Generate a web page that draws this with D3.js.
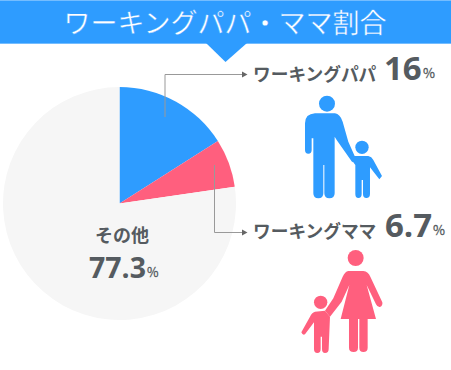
<!DOCTYPE html>
<html>
<head>
<meta charset="utf-8">
<script src="https://cdnjs.cloudflare.com/ajax/libs/d3/7.8.5/d3.min.js"></script>
<style>
html, body { margin: 0; padding: 0; background: #fff; }
svg { display: block; }
text { font-family: "Noto Sans CJK JP", sans-serif; }
.num { font-family: "Open Sans", sans-serif; font-weight: 700; }
</style>
</head>
<body>
<script>
var w = 451;
var h = 370;

var title = "ワーキングパパ・ママ割合";
var categories = ["ワーキングパパ", "ワーキングママ", "その他"];
var values = [16, 6.7, 77.3];
var colors = ["#2e9cff", "#ff5f7e", "#f6f6f6"];
var textColor = "#555b60";

var svg = d3.select("body")
    .append("svg")
    .attr("width", w)
    .attr("height", h);

// header band
svg.append("rect")
    .attr("x", 0).attr("y", 0)
    .attr("width", w).attr("height", 44)
    .attr("fill", colors[0]);
svg.append("rect").attr("x", 0).attr("y", 0).attr("width", w).attr("height", 1).attr("fill", "#74bdff");
svg.append("rect").attr("x", 0).attr("y", 43).attr("width", w).attr("height", 1).attr("fill", "#74bdff");
svg.append("path")
    .attr("d", "M206,43L247,43L225.5,62Z")
    .attr("fill", colors[0]);
svg.append("text")
    .attr("x", 225)
    .attr("y", 33)
    .attr("text-anchor", "middle")
    .attr("fill", "#fff")
    .attr("stroke", colors[0])
    .attr("stroke-width", 0.4)
    .style("font-size", "27px")
    .text(title);

// pie
var pie = d3.pie().sort(null).value(function(d){ return d; });
var arc = d3.arc().innerRadius(0).outerRadius(116.5);

svg.append("g")
    .attr("transform", "translate(119.5,203.5)")
    .selectAll("path")
    .data(pie(values))
    .enter()
    .append("path")
    .attr("d", arc)
    .attr("fill", function(d, i){ return colors[i]; });

// leader lines
var leaders = ["M165,117V74.5H243", "M214.5,165V232.5H243"];
leaders.forEach(function(d, i){
    svg.append("path")
        .attr("d", d)
        .attr("fill", "none")
        .attr("stroke", "#999")
        .attr("stroke-width", 1);
    var y = i == 0 ? 74.5 : 232.5;
    svg.append("path")
        .attr("d", "M242," + (y - 3) + "L247.5," + y + "L242," + (y + 3) + "Z")
        .attr("fill", "#666");
});

// labels
function label(name, value, x, y, numX, pctX){
    svg.append("text")
        .attr("x", x).attr("y", y)
        .attr("fill", textColor)
        .style("font-size", "17.7px")
        .style("font-weight", 700)
        .text(name);
    svg.append("text")
        .attr("class", "num")
        .attr("x", numX).attr("y", y - 1)
        .attr("fill", textColor)
        .style("font-size", "33px")
        .text(value);
    svg.append("text")
        .attr("x", pctX).attr("y", y - 3)
        .attr("fill", textColor)
        .attr("stroke", textColor)
        .attr("stroke-width", 0.3)
        .style("font-size", "13px")
        .text("%");
}
label(categories[0], values[0], 253, 81, 384, 423);
label(categories[1], values[1], 253, 238, 385, 433);

svg.append("text")
    .attr("x", 122).attr("y", 242)
    .attr("text-anchor", "middle")
    .attr("fill", textColor)
    .style("font-size", "18px")
    .style("font-weight", 700)
    .text(categories[2]);
svg.append("text")
    .attr("class", "num")
    .attr("x", 89).attr("y", 278)
    .attr("fill", textColor)
    .style("font-size", "28.5px")
    .text(values[2]);
svg.append("text")
    .attr("x", 147).attr("y", 277)
    .attr("fill", textColor)
    .attr("stroke", textColor)
    .attr("stroke-width", 0.3)
    .style("font-size", "12.5px")
    .text("%");

// icons, drawn at 3x then scaled down
var father = svg.append("g")
    .attr("transform", "translate(290,90) scale(0.3333)")
    .attr("fill", colors[0]);
father.append("circle").attr("cx", 111).attr("cy", 41).attr("r", 24);
father.append("path").attr("d", "M75,70L135,70Q150,72 158,95L175,155L197,205L187,217L140,150L134,140L134,310Q134,325 118,325Q103,325 103,310L103,225L100,225L100,310Q100,325 85,325Q70,325 70,310L70,145L65,145L65,180Q65,191 55,191Q45,191 45,180L45,100Q45,72 75,70Z");
father.append("circle").attr("cx", 216).attr("cy", 172).attr("r", 20);
father.append("path").attr("d", "M190,198L235,198Q245,200 250,210L276,258L268,268L240,232L240,312Q240,324 229,324Q219,324 219,312L219,270L215,270L215,312Q215,324 205,324Q196,324 196,312L196,225L185,210Z");

var mother = svg.append("g")
    .attr("transform", "translate(290,245) scale(0.3333)")
    .attr("fill", colors[1]);
mother.append("circle").attr("cx", 197).attr("cy", 39).attr("r", 24);
mother.append("path").attr("d", "M175,78L220,78Q235,80 241,95L277,172Q279,182 270,186Q262,187 258,178L230,120L258,222L233,222L233,308Q233,321 220,321Q208,321 208,308L208,222L204,222L204,308Q204,321 191,321Q177,321 177,308L177,222L152,222L178,120L155,170L120,215L105,197L130,160L158,95Q165,80 175,78Z");
mother.append("circle").attr("cx", 92).attr("cy", 172).attr("r", 20);
mother.append("path").attr("d", "M75,200L105,197L120,215L116,312Q116,324 105,324Q96,324 96,312L96,275L92,275L92,312Q92,324 82,324Q72,324 72,312L72,232L45,268Q38,272 34,262L60,215Q65,203 75,200Z");
</script>
</body>
</html>
